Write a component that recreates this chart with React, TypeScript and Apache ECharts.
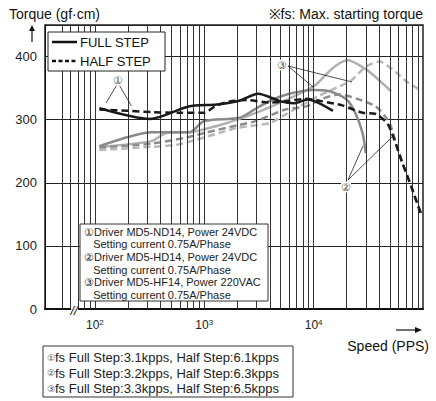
import React, { useEffect, useRef } from "react";
import * as echarts from "echarts";

// ---- data (speed in pps, torque in gf·cm) ----
const full1Speed = [110, 320, 720, 1300, 2100, 3100, 5000, 6600, 8800, 15000];
const full1Torque = [318, 301, 321, 324, 330, 341, 329, 326, 332, 314];

const half1Speed = [110, 200, 330, 600, 1000, 1250, 1700, 2500, 4000, 5500, 8500, 12000, 18000, 28000, 37000, 48000, 65000, 80000, 96000];
const half1Torque = [316, 314, 312, 311, 311, 321, 329, 331, 327, 329, 333, 329, 323, 311, 309, 292, 231, 189, 150];

const full2Speed = [110, 330, 730, 1000, 2100, 3000, 4000, 6000, 9800, 14000, 20000, 24000, 28000, 30000];
const full2Torque = [258, 280, 280, 298, 303, 318, 330, 341, 347, 345, 332, 311, 279, 247];

const half2Speed = [110, 330, 700, 1000, 2000, 3000, 5500, 8500, 12000, 17000, 25000, 37000, 46000, 51000, 60000, 74000, 91000, 96000];
const half2Torque = [256, 262, 272, 279, 291, 298, 316, 321, 333, 340, 333, 321, 303, 289, 247, 205, 162, 152];

const full3Speed = [110, 330, 450, 800, 1300, 2000, 4000, 10000, 15000, 20500, 30000, 40000, 51000];
const full3Torque = [257, 266, 279, 281, 290, 300, 320, 353, 382, 394, 380, 362, 345];

const half3Speed = [110, 330, 550, 840, 1370, 2000, 4000, 5500, 11000, 15000, 22000, 30000, 40000, 55000, 70000, 92000];
const half3Torque = [252, 257, 260, 268, 279, 287, 295, 308, 337, 348, 362, 384, 392, 377, 361, 348];

const gridSpeeds = [50, 60, 70, 80, 90, 100, 200, 300, 400, 500, 600, 700, 800, 900, 1000, 2000, 3000, 4000, 5000, 6000, 7000, 8000, 9000, 10000, 20000, 30000, 40000, 50000, 60000, 70000, 80000, 90000];

const legendLabels = ["FULL STEP", "HALF STEP"];
const noteLines = [
  "①Driver MD5-ND14, Power 24VDC",
  "   Setting current 0.75A/Phase",
  "②Driver MD5-HD14, Power 24VDC",
  "   Setting current 0.75A/Phase",
  "③Driver MD5-HF14, Power 220VAC",
  "   Setting current 0.75A/Phase",
];
const fsMarks = ["①", "②", "③"];
const fsLines = [
  "fs Full Step:3.1kpps, Half Step:6.1kpps",
  "fs Full Step:3.2kpps, Half Step:6.3kpps",
  "fs Full Step:3.3kpps, Half Step:6.5kpps",
];

const FONT = '"Liberation Sans", Arial, sans-serif';

const zip = (a: number[], b: number[]) => a.map((v, i) => [v, b[i]]);

export default function App() {
  const ref = useRef<HTMLDivElement>(null);
  useEffect(() => {
    if (!ref.current) return;
    const chart = echarts.init(ref.current, undefined, { renderer: "svg" });

    const lineSeries = (name: string, data: number[][], color: string, dashed: boolean, z: number) => ({
      type: "line",
      name,
      data,
      showSymbol: false,
      symbol: "none",
      smooth: 0.25,
      z,
      lineStyle: { color, width: 2.5, type: dashed ? [7, 4] : "solid" },
    });

    const graphics: any[] = [];
    // titles
    graphics.push({ type: "text", z: 100, style: { text: "Torque (gf·cm)", x: 9, y: 14, fontSize: 14, fontFamily: FONT, fill: "#111", verticalAlign: "middle" } });
    graphics.push({ type: "text", z: 100, style: { text: "※fs: Max. starting torque", x: 423, y: 14, fontSize: 14, fontFamily: FONT, fill: "#111", align: "right", verticalAlign: "middle" } });
    // up arrow
    graphics.push({ type: "line", z: 100, shape: { x1: 32, y1: 42, x2: 32, y2: 29 }, style: { stroke: "#111", lineWidth: 1.2 } });
    graphics.push({ type: "polygon", z: 100, shape: { points: [[29, 31], [35, 31], [32, 25]] }, style: { fill: "#111" } });
    // right arrow
    graphics.push({ type: "line", z: 100, shape: { x1: 396, y1: 330, x2: 417, y2: 330 }, style: { stroke: "#111", lineWidth: 1.2 } });
    graphics.push({ type: "polygon", z: 100, shape: { points: [[415, 327], [415, 333], [422, 330]] }, style: { fill: "#111" } });
    graphics.push({ type: "text", z: 100, style: { text: "Speed (PPS)", x: 429, y: 346, fontSize: 14, fontFamily: FONT, fill: "#111", align: "right", verticalAlign: "middle" } });
    // axis break
    graphics.push({ type: "rect", z: 100, shape: { x: 71, y: 304, width: 7, height: 10 }, style: { fill: "#fff" } });
    graphics.push({ type: "text", z: 101, style: { text: "//", x: 74, y: 310, fontSize: 13, fontFamily: FONT, fontStyle: "italic", fill: "#111", align: "center", verticalAlign: "middle" } });
    // legend box
    graphics.push({ type: "rect", z: 100, shape: { x: 48, y: 32, width: 117, height: 39 }, style: { fill: "#fff", stroke: "#222", lineWidth: 1 } });
    graphics.push({ type: "line", z: 101, shape: { x1: 52, y1: 42, x2: 77, y2: 42 }, style: { stroke: "#111", lineWidth: 2.5 } });
    graphics.push({ type: "line", z: 101, shape: { x1: 52, y1: 61, x2: 77, y2: 61 }, style: { stroke: "#111", lineWidth: 2.5, lineDash: [4, 2.5] } });
    legendLabels.forEach((t, i) => {
      graphics.push({ type: "text", z: 101, style: { text: t, x: 80, y: 42 + i * 19, fontSize: 13, fontFamily: FONT, fill: "#111", verticalAlign: "middle" } });
    });
    // note box
    graphics.push({ type: "rect", z: 100, shape: { x: 80, y: 224, width: 188, height: 77 }, style: { fill: "#fff", stroke: "#333", lineWidth: 1 } });
    noteLines.forEach((t, i) => {
      graphics.push({ type: "text", z: 101, style: { text: t, x: 84, y: 231.5 + i * 12.7, fontSize: 11, fontFamily: FONT, fill: "#222", verticalAlign: "middle" } });
    });
    // fs box
    graphics.push({ type: "rect", z: 100, shape: { x: 43, y: 346, width: 250, height: 51 }, style: { fill: "#fff", stroke: "#333", lineWidth: 1 } });
    fsLines.forEach((t, i) => {
      graphics.push({
        type: "text", z: 101,
        style: {
          text: "{c|" + fsMarks[i] + "}{t|" + t + "}", x: 47, y: 357.5 + i * 15.5, verticalAlign: "middle",
          rich: { c: { fontSize: 9, fontFamily: FONT, fill: "#444" }, t: { fontSize: 13, fontFamily: FONT, fill: "#222" } },
        },
      });
    });
    // pointer labels
    const ptr = (x1: number, y1: number, x2: number, y2: number) =>
      graphics.push({ type: "line", z: 99, shape: { x1, y1, x2, y2 }, style: { stroke: "#222", lineWidth: 0.8 } });
    ptr(116.5, 85.5, 106, 103); ptr(119.5, 85.5, 131.5, 106);
    ptr(288, 66, 313, 87); ptr(288, 66, 352, 82);
    ptr(348, 180, 363, 146); ptr(348, 180, 392, 137);
    const lbl = (t: string, x: number, y: number) =>
      graphics.push({ type: "text", z: 102, style: { text: t, x, y, fontSize: 11, fontFamily: FONT, fill: "#555", align: "center", verticalAlign: "middle", backgroundColor: "#fff" } });
    lbl("①", 118, 80); lbl("③", 282, 65); lbl("②", 346, 187);

    chart.setOption({
      animation: false,
      backgroundColor: "#fff",
      grid: { left: 45, right: 13, top: 25, bottom: 92, show: true, borderColor: "#222", borderWidth: 1.5 },
      xAxis: {
        type: "log", logBase: 10, min: 35, max: 100000,
        axisLine: { show: true, lineStyle: { color: "#111", width: 2 } },
        axisTick: { show: false },
        splitLine: { show: false },
        axisLabel: {
          margin: 9,
          formatter: (v: number) => {
            const e = Math.log10(v);
            const r = Math.round(e);
            if (Math.abs(e - r) < 1e-6 && r >= 2 && r <= 4) return "{a|10}{b|" + r + "}";
            return "";
          },
          rich: {
            a: { fontSize: 12, fontFamily: FONT, color: "#222", lineHeight: 14 },
            b: { fontSize: 8, fontFamily: FONT, color: "#222", verticalAlign: "top" },
          },
        },
      },
      yAxis: {
        type: "value", min: 0, max: 450, interval: 100,
        axisLine: { show: true, lineStyle: { color: "#111", width: 1 } },
        axisTick: { show: false },
        splitLine: { show: true, lineStyle: { color: "#222", width: 1 } },
        axisLabel: { margin: 8, fontSize: 13, fontFamily: FONT, color: "#222", formatter: (v: number) => (v === 450 ? "" : String(v)) },
      },
      series: [
        {
          type: "line", name: "grid", data: [], z: 1, silent: true,
          markLine: {
            silent: true, symbol: ["none", "none"], label: { show: false },
            lineStyle: { color: "#333", width: 1, type: "solid" },
            data: gridSpeeds.map((s) => ({ xAxis: s })),
          },
        },
        lineSeries("③ HALF", zip(half3Speed, half3Torque), "#b8b8b8", true, 3),
        lineSeries("③ FULL", zip(full3Speed, full3Torque), "#b0b0b0", false, 3),
        lineSeries("② HALF", zip(half2Speed, half2Torque), "#8c8c8c", true, 4),
        lineSeries("② FULL", zip(full2Speed, full2Torque), "#8a8a8a", false, 4),
        lineSeries("① HALF", zip(half1Speed, half1Torque), "#1a1a1a", true, 5),
        lineSeries("① FULL", zip(full1Speed, full1Torque), "#1a1a1a", false, 5),
      ],
      graphic: graphics,
    });
    return () => chart.dispose();
  }, []);
  return <div ref={ref} style={{ position: "fixed", left: 0, top: 0, width: 436, height: 401 }} />;
}
